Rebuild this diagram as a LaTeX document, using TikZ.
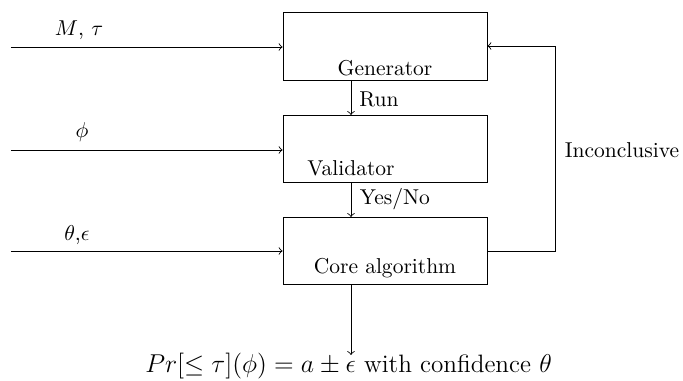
\documentclass[tikz,border=0pt]{standalone}
\begin{document}
\begin{tikzpicture}[x=0.465pt,y=-0.465pt,
  blk/.style={draw,minimum width=94.86pt,minimum height=31.4pt,inner sep=0pt},
  txt/.style={inner sep=0pt}]
\useasboundingbox (0,0) rectangle (683,381);
\node[blk] (gen) at (385,46.5) {};
\node[blk] (val) at (385,149) {};
\node[blk] (core) at (385,251) {};
\node[txt] (gent) at (385,68) {Generator};
\node[txt] (valt) at (351,168) {Validator};
\node[txt] (coret) at (385,268) {Core algorithm};
\coordinate (in1) at (11,47);
\coordinate (in2) at (11,150);
\coordinate (in3) at (11,251);
\node[txt] (l1) at (79,30) {$M$, $\tau$};
\node[txt] (l2) at (82,132) {$\phi$};
\node[txt] (l3) at (77,235) {$\theta$,$\epsilon$};
\draw[->] (in1) -- (in1 -| gen.west);
\draw[->] (in2) -- (in2 -| val.west);
\draw[->] (in3) -- (in3 -| core.west);
\draw[->] (351,80) -- (351,115);
\draw[->] (351,183) -- (351,217);
\node[txt] (run) at (379,99) {Run};
\node[txt] (yn) at (395,199) {Yes/No};
\coordinate (fb1) at (555,251);
\coordinate (fb2) at (555,46);
\draw[->] (core.east |- fb1) -- (fb1) -- (fb2) -- (gen.east |- fb2);
\node[txt] (inc) at (622,150) {Inconclusive};
\node[txt,anchor=base,font=\fontsize{11.7pt}{14pt}\selectfont] (out) at (348.5,373) {$Pr[\leq \tau](\phi) = a \pm \epsilon$ with confidence $\theta$};
\draw[->] (351,285) -- (351,355);
\end{tikzpicture}
\end{document}
